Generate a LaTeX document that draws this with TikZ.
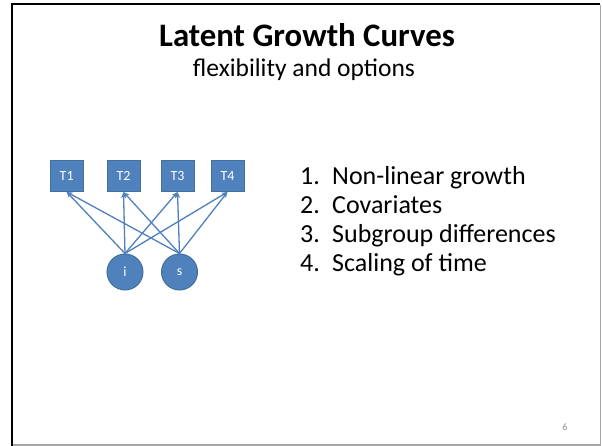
\documentclass[tikz,border=0pt]{standalone}
\usepackage{fontspec}
\setmainfont{Carlito}
\usetikzlibrary{arrows.meta}
\definecolor{boxblue}{HTML}{4F81BD}
\definecolor{boxedge}{HTML}{41719C}
\definecolor{pgnum}{HTML}{8C8C8C}
\definecolor{shadowgrey}{HTML}{A6A6A6}
\begin{document}
\begin{tikzpicture}[x=1pt,y=-1pt,
  obs/.style={draw=boxedge, line width=1pt, fill=boxblue, minimum width=33pt, minimum height=31pt, inner sep=0pt, text=white, font=\fontsize{14}{15}\selectfont},
  lat/.style={circle, draw=boxedge, line width=1pt, fill=boxblue, minimum size=36pt, inner sep=0pt, text=white, font=\fontsize{14}{15}\selectfont},
  arr/.style={draw=boxblue, line width=1.3pt, -{Stealth[length=6pt,width=5pt]}},
  item/.style={anchor=base west, inner sep=0pt, font=\fontsize{26}{30}\selectfont}]
\path[use as bounding box] (0,0) rectangle (602,446);
\fill[white] (0,0) rectangle (602,446);
% slide frame
\draw[black, line width=2pt] (12.3,446) -- (12.3,4) -- (600,4);
\draw[shadowgrey, line width=1.5pt] (13,445) -- (600.5,445) -- (600.5,5);
% titles
\node[anchor=base, inner sep=0pt, font=\bfseries\fontsize{32.8}{38}\selectfont] (title) at (307,47) {Latent Growth Curves};
\node[anchor=base, inner sep=0pt, font=\fontsize{25.5}{30}\selectfont] (sub) at (304,77) {flexibility and options};
% diagram
\node[obs] (T1) at (66.7,176) {T1};
\node[obs] (T2) at (123.5,176) {T2};
\node[obs] (T3) at (177.5,176) {T3};
\node[obs] (T4) at (227.5,176) {T4};
\node[lat] (i) at (125,272) {i};
\node[lat] (s) at (179.5,272) {s};
\foreach \t in {T1,T2,T3,T4}{
  \draw[arr] (i.north) -- (\t.south);
  \draw[arr] (s.north) -- (\t.south);
}
% list
\node[item] (n1) at (300,185) {1.};
\node[item] (l1) at (332,185) {Non-linear growth};
\node[item] (n2) at (300,214) {2.};
\node[item] (l2) at (332,214) {Covariates};
\node[item] (n3) at (300,243) {3.};
\node[item] (l3) at (332,243) {Subgroup differences};
\node[item] (n4) at (300,272) {4.};
\node[item] (l4) at (332,272) {Scaling of time};
% page number
\node[text=pgnum, font=\fontsize{10}{12}\selectfont] (pg) at (565,427) {6};
\end{tikzpicture}
\end{document}
